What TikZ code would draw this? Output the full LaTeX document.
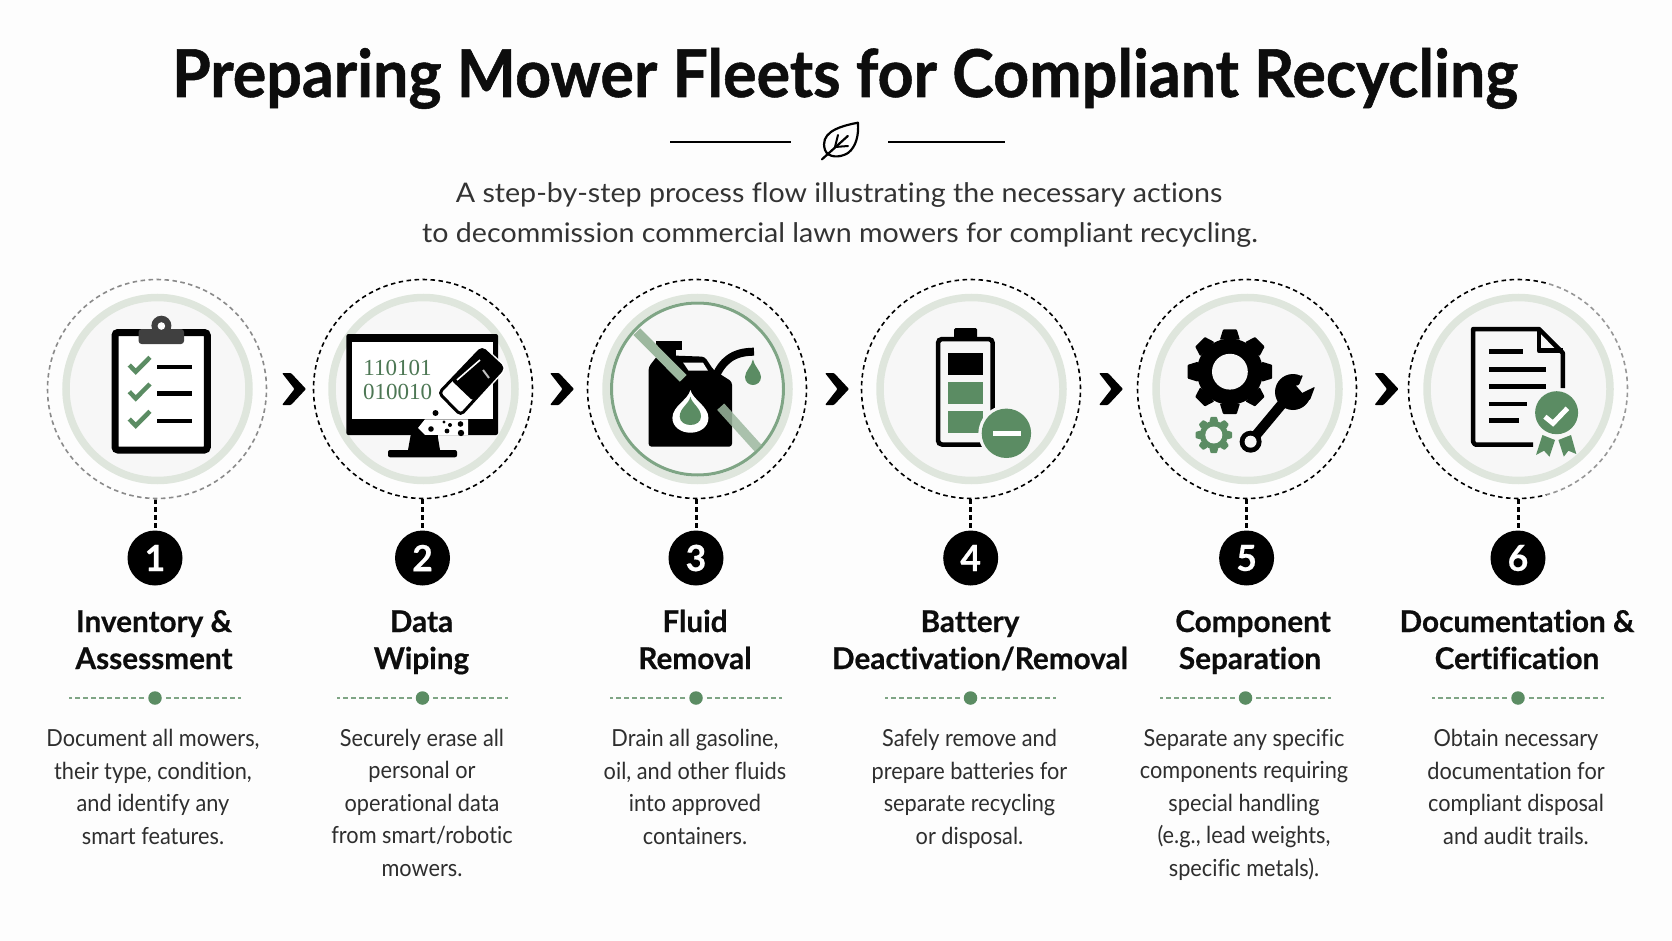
\documentclass[tikz,border=0pt]{standalone}
\usepackage{fontspec}
\setmainfont{Lato}
\newfontfamily\digitfont{Liberation Serif}
\newfontface\titleface[Ligatures=NoCommon,FakeStretch=0.95,FakeBold=0.8]{Lato Bold}
\newfontface\headface[Ligatures=NoCommon,FakeStretch=0.99,FakeBold=0.5]{Lato Bold}
\newfontface\subface[Ligatures=NoCommon,FakeStretch=1.06]{Lato}
\newfontface\bodyface[Ligatures=NoCommon,FakeStretch=0.925]{Lato}
\definecolor{mowgreen}{HTML}{5B8C63}
\definecolor{ringgray}{HTML}{DFE6DD}
\definecolor{innerbg}{HTML}{F7F7F7}
\definecolor{pagebg}{HTML}{FDFDFD}
\definecolor{sepgreen}{HTML}{7FA585}
\definecolor{slashgreen}{HTML}{9DB89F}
\tikzset{
    stepring/.style={circle, draw=black, line width=1.6pt, dash pattern=on 4.5pt off 3.5pt, minimum size=219pt, inner sep=0pt},
    stembar/.style={line width=3pt, dash pattern=on 5pt off 3pt},
    badge/.style={circle, fill=black, text=white, minimum size=55pt, inner sep=0pt, font=\fontsize{36}{36}\headface},
    headline/.style={anchor=base, inner sep=0pt, font=\fontsize{30}{30}\headface, text=black!95},
    subline/.style={anchor=base, inner sep=0pt, font=\fontsize{27}{27}\subface, text=black!80},
    bodytext/.style={anchor=base, align=center, inner sep=0pt, font=\fontsize{23.5}{32.4}\bodyface, text=black!82},
    sepdot/.style={circle, fill=mowgreen, minimum size=13.5pt, inner sep=0pt},
    sepdash/.style={sepgreen, line width=1.8pt, dash pattern=on 5pt off 3pt},
}
% chevron between two steps, #1 = left end
\newcommand{\stepchevron}[1]{
    \fill[rounded corners=1pt] (#1,373) -- (#1+9,373) -- (#1+24,389) -- (#1+9,405) -- (#1,405) -- (#1+12.5,389) -- cycle;
}
% gear, #1 x, #2 y, #3 root radius, #4 tip radius, #5 tooth half width, #6 hole radius, #7 colour
\newcommand{\stepgear}[7]{
    \fill[#7] (#1,#2) circle (#3pt);
    \foreach \a in {0,45,...,315} {
        \fill[#7, rotate around={\a:(#1,#2)}, rounded corners=0.8pt] (#1-#5*1.25,#2-#3+1) -- (#1-#5*0.85,#2-#4) -- (#1+#5*0.85,#2-#4) -- (#1+#5*1.25,#2-#3+1) -- cycle;
    }
    \fill[innerbg] (#1,#2) circle (#6pt);
}
\begin{document}
\begin{tikzpicture}[x=1pt, y=-1pt]

    % Page
    \fill[pagebg] (0,0) rectangle (1672,941);
    \useasboundingbox (0,0) rectangle (1672,941);

    % Title
    \node[anchor=base, inner sep=0pt, font=\fontsize{66}{66}\titleface, text=black!95] (title) at (845,97) {Preparing Mower Fleets for Compliant Recycling};

    % Divider with leaf
    \coordinate (leftA) at (670,142);
    \coordinate (leftB) at (791,142);
    \coordinate (rightA) at (888,142);
    \coordinate (rightB) at (1005,142);
    \draw[line width=1.6pt] (leftA) -- (leftB);
    \draw[line width=1.6pt] (rightA) -- (rightB);
    \draw[line width=2.2pt, line join=round, line cap=round] (857.9,122.7) .. controls (835,127) and (820,134) .. (825,150) .. controls (828,158) and (840,158) .. (848,153) .. controls (856,147) and (859,135) .. (857.9,122.7) -- cycle;
    \draw[line width=2.2pt, line cap=round] (822,159.3) -- (847.8,136);
    \draw[line width=2pt, line cap=round] (835,147) -- (838,135);
    \draw[line width=2pt, line cap=round] (835,147) -- (848,146);

    % Subtitle
    \node[subline] (subA) at (839,203) {A step-by-step process flow illustrating the necessary actions};
    \node[subline] (subB) at (840,243) {to decommission commercial lawn mowers for compliant recycling.};

    % Rings, outer dashed circles, badges and stems
    \foreach \i/\cx/\bx/\num in {1/157/155/1, 2/423/422.5/2, 3/697/696/3, 4/971/970.7/4, 5/1247/1246.6/5, 6/1518/1518/6} {
        \draw[ringgray, fill=innerbg, line width=7.5pt] (\cx+0.5,389) circle (91.5pt);
        \node[stepring] (circ\i) at (\cx,389) {};
        \node[badge] (badge\i) at (\bx,558) {\num};
        \draw[stembar] (badge\i.north |- circ\i.south) -- (badge\i.north);
    }
    % Faded stretches of the first and last circle
    \draw[pagebg, opacity=0.55, line width=3pt] (circ1) circle (109.5pt);
    \draw[pagebg, opacity=0.6, line width=3pt, domain=-75:75, samples=60] plot ({1518+109.5*cos(\x)},{389-109.5*sin(\x)});

    % Chevrons
    \stepchevron{282}
    \stepchevron{550}
    \stepchevron{825}
    \stepchevron{1099}
    \stepchevron{1374.5}

    % Headings
    \foreach \i/\xa/\xb/\ha/\hb in {1/154/154/{Inventory \&}/Assessment, 2/421.5/421.5/Data/Wiping, 3/695/695/Fluid/Removal, 4/970/980/Battery/{Deactivation/Removal}, 5/1253/1250/Component/Separation, 6/1517/1517/{Documentation \&}/Certification} {
        \node[headline] (headA\i) at (\xa,632) {\ha};
        \node[headline] (headB\i) at (\xb,669) {\hb};
    }

    % Separators
    \foreach \i/\x in {1/155, 2/422.5, 3/696, 4/970.5, 5/1245.5, 6/1518} {
        \node[sepdot] (sep\i) at (\x,698) {};
        \draw[sepdash] ([xshift=-4pt]sep\i.west) -- ++(-75,0);
        \draw[sepdash] ([xshift=4pt]sep\i.east) -- ++(75,0);
    }

    % Body text, anchored on the last line
    \node[bodytext] (body1) at (153,844) {Document all mowers,\\their type, condition,\\and identify any\\smart features.};
    \node[bodytext] (body2) at (422,876) {Securely erase all\\personal or\\operational data\\from smart/robotic\\mowers.};
    \node[bodytext] (body3) at (695,844) {Drain all gasoline,\\oil, and other fluids\\into approved\\containers.};
    \node[bodytext] (body4) at (969.5,844) {Safely remove and\\prepare batteries for\\separate recycling\\or disposal.};
    \node[bodytext] (body5) at (1244,876) {Separate any specific\\components requiring\\special handling\\(e.g., lead weights,\\specific metals).};
    \node[bodytext] (body6) at (1516,844) {Obtain necessary\\documentation for\\compliant disposal\\and audit trails.};

    % Icon 1: clipboard
    \draw[fill=white, line width=7pt, rounded corners=3pt] (115,332.5) rectangle (207.3,450);
    \fill[black!75] (161.4,325.7) circle (10pt);
    \fill[black!75, rounded corners=3pt] (138.6,329) rectangle (184,344);
    \fill[white] (161.4,326) circle (3.8pt);
    \foreach \y in {0,26.7,54} {
        \draw[mowgreen, line width=4.5pt] (129.3,365+\y) -- (135.7,371.7+\y) -- (150,357.3+\y);
        \fill (157,364.5+\y) rectangle (192,369+\y);
    }

    % Icon 2: monitor with eraser
    \fill[rounded corners=2pt] (346.4,334) rectangle (498,435);
    \fill[white] (351.5,342) rectangle (493,419.3);
    \fill (410.7,435) -- (437.5,435) -- (440,450) -- (408,450) -- cycle;
    \fill[rounded corners=2pt] (388,450) rectangle (457,457.3);
    \fill[white] (425,419.3) -- (418,428) -- (425,435) -- (468,435) -- (468,419.3) -- cycle;
    \fill (410.7,435) rectangle (437.5,440);
    \node[anchor=base, inner sep=0pt, text=mowgreen!85!black, font=\fontsize{23}{23}\digitfont] (bitsA) at (397.5,375) {110101};
    \node[anchor=base, inner sep=0pt, text=mowgreen!85!black, font=\fontsize{23}{23}\digitfont] (bitsB) at (397.5,399.3) {010010};
    % eraser
    \draw[white, line width=6pt, rounded corners=4pt, fill=white] (482,348) -- (503.5,368) -- (460.7,415) -- (439,393) -- cycle;
    \draw[line width=3pt, rounded corners=4pt, fill=white] (482,348) -- (503.5,368) -- (460.7,415) -- (439,393) -- cycle;
    \fill[rounded corners=3pt] (482,348) -- (503.5,368) -- (473,401) -- (451,380) -- cycle;
    \draw[white, line width=1.6pt] (457,380) -- (480,360);
    \draw[black!25, line width=2pt] (483,370) -- (489,378);
    % crumbs
    \foreach \x/\y/\r in {435.5/413/3, 431/429/2.8, 447/431/2.4, 460.5/424/2.8, 450/425/2, 461/433/3.2, 444/422/1.6} {
        \fill (\x,\y) circle (\r pt);
    }

    % Icon 3: fuel can crossed out
    \draw[sepgreen, line width=3pt] (697.5,389) circle (86pt);
    \fill (656,341) rectangle (681.5,350);
    \fill (662,350) rectangle (676,358);
    \fill[rounded corners=3pt] (648.6,367) -- (658,355) -- (704.6,356.7) -- (713.6,370) -- (732,381.7) -- (732,446.7) -- (648.6,446.7) -- cycle;
    \fill[innerbg] (683.2,362.7) -- (703,362.7) -- (708,370.7) -- (688.6,370.7) -- cycle;
    \draw[line width=8pt] (715,378) .. controls (722,361) and (733,351.7) .. (754,351.7);
    \fill[mowgreen] (752.9,359.3) .. controls (754,366) and (761,371) .. (761,377) .. controls (761,382) and (757,385) .. (752.9,385) .. controls (749,385) and (745,382) .. (745,377) .. controls (745,371) and (752,366) .. (752.9,359.3) -- cycle;
    \fill[white] (690.4,390) .. controls (693,400) and (708.4,406) .. (708.4,418) .. controls (708.4,427) and (700,432.7) .. (690.4,432.7) .. controls (681,432.7) and (672.4,427) .. (672.4,418) .. controls (672.4,406) and (688,400) .. (690.4,390) -- cycle;
    \fill[mowgreen] (690.4,396.7) .. controls (692,404) and (701,408) .. (701,416.5) .. controls (701,422) and (696,425) .. (690.4,425) .. controls (685,425) and (679.7,422) .. (679.7,416.5) .. controls (679.7,408) and (689,404) .. (690.4,396.7) -- cycle;
    \draw[slashgreen, line width=9.5pt] (636.8,331.7) -- (683.2,378.3);
    \draw[slashgreen, opacity=0.85, line width=9.5pt] (720.7,406.7) -- (758.2,448.3);

    % Icon 4: battery
    \fill[rounded corners=1.5pt] (954,328) rectangle (977,340);
    \draw[line width=4.5pt, rounded corners=4pt] (938,339) rectangle (992.7,444.5);
    \fill (948,353) rectangle (982.5,375);
    \fill[mowgreen] (948,381.7) rectangle (982.5,404.3);
    \fill[mowgreen] (948,410.7) rectangle (982.5,433.3);
    \fill[innerbg] (1006.4,433.3) circle (28pt);
    \fill[mowgreen] (1006.4,433.3) circle (24.7pt);
    \fill[white] (993,430.7) rectangle (1020.7,436);

    % Icon 5: gears and wrench
    \stepgear{1229.9}{371.7}{33}{42.3}{8}{17.9}{black}
    \stepgear{1213.8}{435}{14}{18.2}{3.6}{8.5}{mowgreen}
    \draw[line width=10pt] (1252,440) -- (1292,392);
    \fill (1293,392) circle (18pt);
    \fill[innerbg] (1296,385.5) -- (1302.5,393) -- (1322,392) -- (1309,372) -- (1303,368) -- cycle;
    \fill[rounded corners=1pt] (1292,378) -- (1303,375) -- (1299,385) -- (1285,388) -- cycle;
    \fill[rounded corners=1pt] (1315,386.7) -- (1310,400) -- (1298,402) -- (1302,393) -- cycle;
    \fill (1250.6,441.7) circle (11pt);
    \fill[innerbg] (1250.6,441.7) circle (6pt);

    % Icon 6: document with seal
    \draw[line width=4.5pt, line join=round] (1533,444.5) -- (1475,444.5) -- (1473.2,442) -- (1473.2,329) -- (1539,329) -- (1562.8,353) -- (1562.8,388);
    \draw[line width=4.5pt, line join=round] (1538.8,329) -- (1538.8,350.7) -- (1562.8,350.7);
    \foreach \y/\xe in {351.7/1522.7, 369.3/1546, 386.7/1546, 404/1527.4, 420.7/1519} {
        \draw[line width=4.5pt] (1488.8,\y) -- (\xe,\y);
    }
    \fill[mowgreen] (1542.4,435) -- (1536,455) -- (1544,450.7) -- (1549.5,456.7) -- (1555,440) -- cycle;
    \fill[mowgreen] (1558.4,440) -- (1563.8,456.7) -- (1568.4,450.7) -- (1576.3,454) -- (1571,435) -- cycle;
    \fill[innerbg] (1556.6,412.7) circle (24.5pt);
    \fill[mowgreen] (1556.6,412.7) circle (21.5pt);
    \draw[white, line width=5pt] (1544.9,416.7) -- (1553,423.3) -- (1567.4,408.3);

\end{tikzpicture}
\end{document}
